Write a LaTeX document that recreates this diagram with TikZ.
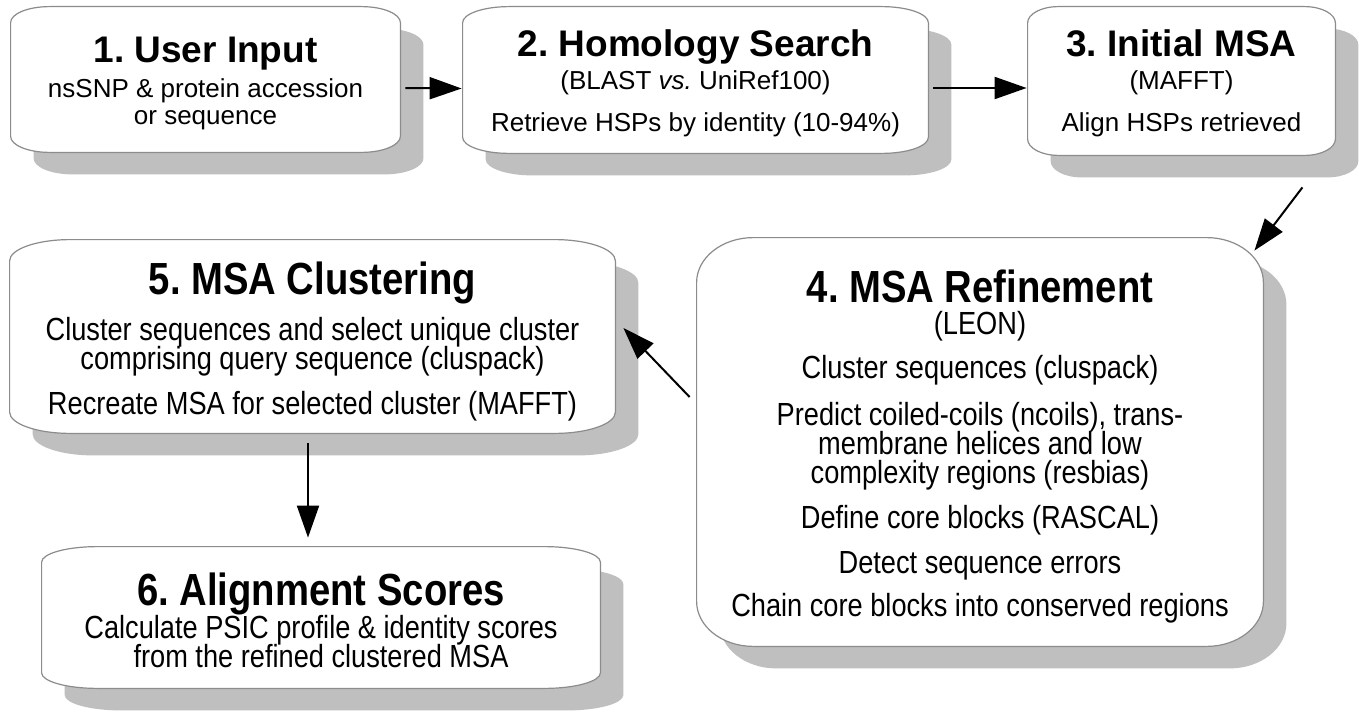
\documentclass[tikz,border=0pt]{standalone}
\usepackage{fontspec}
\setmainfont{Liberation Sans}
\newfontfamily\narrowfont[FakeStretch=0.85]{Liberation Sans}
\usetikzlibrary{arrows.meta,calc}

% box with elliptic corners, drawn round an empty frame node (#3 = offset)
\newcommand\ebox[3]{%
  \path[#2] let \p1=([shift={#3}]#1.south west), \p2=([shift={#3}]#1.north east),
    \n1={0.1*(\x2-\x1)}, \n2={0.11*(\y2-\y1)} in
    (\x1+\n1,\y2) -- (\x2-\n1,\y2)
    arc[start angle=90, end angle=0, x radius=\n1, y radius=\n2]
    -- (\x2,\y1+\n2)
    arc[start angle=0, end angle=-90, x radius=\n1, y radius=\n2]
    -- (\x1+\n1,\y1)
    arc[start angle=-90, end angle=-180, x radius=\n1, y radius=\n2]
    -- (\x1,\y2-\n2)
    arc[start angle=180, end angle=90, x radius=\n1, y radius=\n2]
    -- cycle;}

\begin{document}
\frenchspacing
\begin{tikzpicture}[x=0.5pt,y=0.5pt,
  frame/.style={inner sep=0pt},
  boxshadow/.style={fill=black!25},
  boxface/.style={fill=white, draw=black!45, line width=0.6pt},
  title/.style={anchor=base, inner sep=0pt, font=\fontsize{18.5}{22}\selectfont\bfseries},
  body/.style={anchor=base, inner sep=0pt, align=center,
    font={\fontsize{13}{14}\selectfont\lineskiplimit=-20pt}},
  ntitle/.style={anchor=base, inner sep=0pt, font={\narrowfont\fontsize{22.5}{26}\selectfont\bfseries}},
  nbody/.style={anchor=base, inner sep=0pt, align=center,
    font={\narrowfont\fontsize{16}{14.5}\selectfont\lineskiplimit=-20pt}},
  flow/.style={-{Triangle[length=16pt,width=11pt]}, line width=1pt}]
\useasboundingbox[fill=white] (0,0) rectangle (1359,714);

% frames
\node [frame, minimum width=194.5pt, minimum height=72.5pt] (b1) at (205.5,634.5) {};
\node [frame, minimum width=232.5pt, minimum height=73pt] (b2) at (695.5,634) {};
\node [frame, minimum width=153.5pt, minimum height=74pt] (b3) at (1181.5,633) {};
\node [frame, minimum width=283pt, minimum height=204pt] (b4) at (980,272) {};
\node [frame, minimum width=302.5pt, minimum height=96.5pt] (b5) at (312.5,377.5) {};
\node [frame, minimum width=279pt, minimum height=70.5pt] (b6) at (321,96.5) {};

\foreach \b in {b1,b2,b3,b4,b5,b6} {
  \ebox{\b}{boxshadow}{(11.5pt,-11pt)}
  \ebox{\b}{boxface}{(0pt,0pt)}
}

% texts (bodies sit on the baseline of their last line)
\node [title] (t1) at (205.5,651) {1. User Input};
\node [body] (d1) at (205.5,589) {nsSNP \& protein accession\\or sequence};
\node [title] (t2) at (695.5,657) {2. Homology Search};
\node [body] (d2) at (695.5,582) {(BLAST \textit{vs.} UniRef100)\\[7.5pt]Retrieve HSPs by identity (10-94\%)};
\node [title] (t3) at (1181.5,657) {3. Initial MSA};
\node [body] (d3) at (1181.5,582) {(MAFFT)\\[7.5pt]Align HSPs retrieved};
\node [ntitle] (t4) at (980,412) {4. MSA Refinement};
\node [nbody] (d4) at (980,98) {(LEON)\\[7.5pt]Cluster sequences (cluspack)\\[9pt]%
  Predict coiled-coils (ncoils), trans-\\membrane helices and low\\complexity regions (resbias)\\[8pt]%
  Define core blocks (RASCAL)\\[8pt]Detect sequence errors\\[7pt]Chain core blocks into conserved regions};
\node [ntitle] (t5) at (312.5,420) {5. MSA Clustering};
\node [nbody] (d5) at (312.5,300) {Cluster sequences and select unique cluster\\comprising query sequence (cluspack)\\[8pt]%
  Recreate MSA for selected cluster (MAFFT)};
\node [ntitle] (t6) at (321,109) {6. Alignment Scores};
\node [nbody] (d6) at (321,47) {Calculate PSIC profile \& identity scores\\from the refined clustered MSA};

% arrows
\draw [flow] ([shift={(5,-8.5)}]b1.east) -- ([shift={(-1,-8.5)}]b2.west);
\draw [flow] ([shift={(5,-8)}]b2.east) -- ([shift={(-1,-7)}]b3.west);
\draw [flow] ([shift={(-33,-32)}]b3.south east) -- ([shift={(-9,-13)}]b4.north east);
\draw [flow] ([shift={(-7,45)}]b4.west) -- ([shift={(8,8.5)}]b5.east);
\draw [flow] ([shift={(-4.5,-10)}]b5.south) -- ([shift={(-13,9)}]b6.north);
\end{tikzpicture}
\end{document}
